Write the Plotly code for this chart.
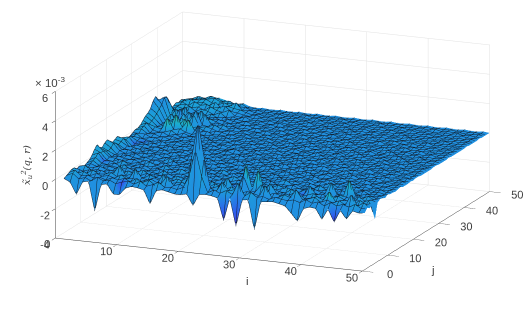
import plotly.graph_objects as go

i_vals = list(range(1, 51))
j_vals = list(range(1, 51))
z_ticks = [-4, -2, 0, 2, 4, 6]
ij_ticks = [0, 10, 20, 30, 40, 50]

# surface heights, in 0.1 x 10^-3; one row per j, one value per i
rows = [
[0,-2,-10,-2,0,-20,-3,-1,-7,-7,-4,-1,-2,-4,-11,-3,-1,-3,-5,-5,-3,-9,-2,-1,-2,-4,-17,-2,-20,-3,-2,-21,-3,-2,-1,-3,-5,-7,-12,-6,-3,-4,-9,-3,-10,-3,-7,-2,-4,-3],
[1,3,-1,2,-2,4,0,2,-2,1,3,0,5,-1,2,6,0,1,-1,3,10,28,10,-1,4,0,5,0,9,0,6,0,2,-1,3,1,0,2,-1,4,0,3,-2,4,0,3,0,5,0,2],
[2,4,1,3,0,2,-1,3,1,4,0,6,1,5,-1,2,7,1,4,0,22,46,22,3,0,7,2,5,1,4,2,0,8,-1,0,5,2,7,1,3,6,0,4,1,5,0,8,0,6,-1],
[3,1,5,0,4,1,3,0,6,1,3,-1,2,4,0,7,1,3,5,0,4,9,3,1,5,0,6,2,11,1,3,7,0,3,1,4,0,6,0,2,5,1,7,0,3,4,0,6,1,4],
[3,2,0,6,1,2,5,0,3,0,7,2,0,4,1,0,3,6,0,2,1,3,0,5,1,8,0,3,18,3,16,2,7,0,3,0,5,0,3,6,0,4,1,6,2,0,4,1,5,-10],
[1,0,3,1,4,0,2,7,0,4,1,0,5,2,0,4,0,1,6,0,3,0,5,0,2,5,0,4,2,5,3,0,4,1,0,6,2,0,7,2,4,0,2,5,3,1,6,0,3,0],
[2,3,0,2,0,3,1,0,5,1,0,4,0,3,1,0,5,2,0,3,0,4,1,0,6,1,3,0,5,0,2,4,0,3,5,0,1,6,3,0,2,10,3,1,13,4,0,5,1,3],
[1,0,2,4,1,0,3,1,0,2,5,0,2,0,4,1,0,3,0,5,1,0,2,4,0,0,3,1,0,2,4,0,5,1,0,3,2,0,4,1,0,3,1,0,4,2,0,3,1,2],
[0,2,1,0,3,1,0,4,1,0,2,1,0,5,0,2,3,0,1,0,4,1,0,2,0,3,0,4,0,1,0,3,0,2,4,0,1,3,0,2,1,0,4,0,2,0,3,0,2,0],
[1,3,0,2,1,0,5,0,2,3,0,1,4,0,2,0,1,5,0,2,0,3,0,1,5,0,2,0,3,0,4,0,1,0,3,0,2,0,5,0,1,3,0,2,0,4,0,1,0,3],
[2,4,1,0,3,0,2,1,0,4,0,2,0,3,0,5,0,2,0,0,3,0,2,0,1,4,0,1,0,3,0,2,5,0,1,0,4,1,0,2,0,0,3,0,1,3,0,2,0,1],
[4,6,2,3,0,5,1,0,3,0,2,0,5,0,1,0,3,0,4,1,0,2,0,4,0,1,0,3,2,0,1,4,0,2,0,3,0,0,2,5,0,2,0,3,0,1,0,3,0,1],
[7,5,1,0,4,1,0,2,0,5,1,0,2,0,3,2,0,1,0,3,0,5,0,1,2,0,4,0,1,0,3,0,2,0,1,4,0,3,0,1,2,0,4,0,2,0,2,0,1,0],
[9,5,3,2,0,2,3,0,4,0,0,3,0,2,0,1,4,0,2,0,1,0,3,0,0,3,0,2,0,4,0,1,0,3,0,2,0,1,4,0,1,0,2,0,4,1,0,2,0,1],
[6,4,1,3,1,0,2,1,0,3,1,0,4,0,2,0,0,3,0,1,3,0,2,0,4,0,1,0,2,0,0,3,0,1,0,4,0,2,0,1,0,3,0,1,0,2,0,1,0,2],
[5,3,2,0,3,1,0,3,0,1,0,5,0,1,0,3,0,1,4,0,0,2,0,1,0,3,0,2,0,1,4,0,2,0,3,0,0,1,0,3,0,1,0,4,0,1,2,0,1,0],
[7,4,0,2,0,4,0,1,2,0,3,0,1,0,4,0,2,0,0,3,0,1,4,0,2,0,0,3,0,2,0,1,0,4,0,1,3,0,2,0,2,0,3,0,1,0,2,0,1,0],
[8,6,3,0,2,1,3,0,4,0,1,0,3,0,1,2,0,3,0,1,2,0,0,3,0,1,4,0,1,0,3,0,2,0,1,0,3,0,1,0,4,0,1,0,3,0,1,0,2,0],
[6,5,2,3,0,2,0,2,0,3,0,2,0,4,0,0,3,0,2,0,0,4,0,1,0,2,0,3,0,1,0,4,0,2,0,3,0,1,0,3,0,2,0,1,0,3,0,1,0,1],
[4,3,1,0,4,0,3,0,1,0,4,0,1,0,2,0,1,4,0,1,3,0,2,0,3,0,1,0,4,0,1,0,3,0,1,0,2,0,4,0,1,0,3,0,2,0,1,0,2,0],
[5,4,3,2,0,2,1,0,3,0,1,2,0,3,0,3,0,1,0,2,0,1,0,4,0,1,0,2,0,3,0,1,0,2,4,0,1,0,1,3,0,1,0,2,0,3,0,1,0,1],
[6,5,-1,3,1,0,3,2,0,2,0,3,0,1,0,0,2,0,3,0,4,0,1,0,2,0,3,0,1,0,2,0,3,0,0,2,0,3,0,1,0,4,0,1,0,1,0,2,0,1],
[4,3,-2,1,3,0,1,0,4,0,1,0,2,0,4,0,1,0,1,3,0,2,0,1,0,3,0,1,0,4,0,1,0,2,0,3,0,1,0,2,0,1,0,3,0,2,0,1,0,0],
[3,4,-1,2,0,3,0,2,0,1,3,0,1,3,0,2,0,3,0,0,1,0,3,0,1,0,2,0,3,0,1,3,0,1,0,0,2,0,3,0,1,0,2,0,1,0,3,0,1,0],
[2,3,1,0,2,0,4,0,1,0,0,3,0,1,0,1,0,2,4,0,0,2,0,1,0,4,0,1,0,2,0,0,3,0,1,2,0,1,0,3,0,2,0,1,0,2,0,0,1,0],
[0,2,3,1,0,2,0,1,3,0,2,0,1,0,3,0,0,1,0,2,0,3,0,0,2,0,1,0,3,0,1,0,2,0,4,0,1,0,2,0,1,0,3,0,1,0,1,0,2,0],
[1,3,0,2,3,0,1,0,2,0,4,0,0,2,0,3,0,0,2,0,1,0,2,0,3,0,0,2,0,1,0,3,0,1,0,2,0,3,0,1,0,2,0,0,3,0,1,0,1,0],
[2,2,4,0,1,3,0,2,0,1,0,2,0,3,0,1,0,3,0,1,0,2,0,3,0,1,0,0,2,0,4,0,1,0,2,0,1,0,0,2,0,3,0,1,0,2,0,1,0,1],
[3,4,2,3,0,1,2,0,3,0,1,0,3,0,0,2,0,1,0,3,0,0,1,0,2,0,3,0,1,0,2,0,0,3,0,1,0,2,0,1,3,0,1,0,2,0,1,0,0,1],
[3,5,1,2,4,0,3,0,1,2,0,3,0,1,2,0,3,0,1,0,2,0,3,0,1,0,2,0,0,3,0,1,0,2,0,0,3,0,1,0,2,0,0,3,0,1,0,1,0,0],
[4,6,3,1,2,5,0,3,0,0,3,0,1,0,3,0,1,0,2,0,0,3,0,1,0,2,0,3,0,1,0,2,0,1,0,3,0,1,0,2,0,1,3,0,1,0,2,0,1,0],
[6,4,5,3,10,4,6,2,0,3,0,2,0,2,0,1,0,3,0,1,2,0,1,0,3,0,1,0,2,0,3,0,1,0,2,0,0,3,0,1,0,2,0,1,0,2,0,0,1,0],
[8,5,3,6,4,12,5,9,3,2,4,0,1,0,3,0,2,0,1,0,3,0,0,2,0,1,0,3,0,1,0,2,0,3,0,1,0,2,0,0,3,0,1,0,2,0,1,0,1,0],
[9,6,4,3,7,5,8,4,6,2,0,3,2,0,1,0,3,0,0,2,0,1,0,3,0,0,2,0,1,0,2,0,0,1,0,3,0,1,0,2,0,0,2,0,1,0,2,0,0,1],
[11,8,3,5,2,7,4,10,3,5,3,0,1,3,0,2,0,1,0,3,0,2,0,1,0,3,0,1,0,3,0,1,0,2,0,0,2,0,3,0,1,0,1,0,3,0,1,0,1,0],
[15,10,4,8,3,9,5,12,4,3,6,2,0,1,0,3,0,2,0,0,2,0,3,0,1,0,2,0,1,0,2,0,3,0,1,0,1,0,0,2,0,3,0,1,0,1,0,0,1,0],
[17,12,5,6,11,4,7,3,9,4,2,5,0,3,0,1,0,0,3,0,1,0,2,0,3,0,1,0,2,0,0,3,0,1,0,2,0,0,2,0,1,0,2,0,1,0,1,0,1,0],
[13,16,6,9,4,8,3,10,5,2,4,0,2,0,1,0,3,0,1,0,3,0,0,2,0,1,0,3,0,1,0,1,0,2,0,0,3,0,1,0,2,0,0,1,0,2,0,1,0,0],
[12,15,7,5,10,3,7,4,6,3,0,3,0,1,3,0,0,2,0,1,0,2,0,1,0,2,0,0,3,0,1,0,2,0,1,0,1,0,3,0,0,2,0,1,0,1,0,0,1,0],
[13,9,5,7,3,6,2,5,3,4,2,0,2,0,0,2,0,1,0,3,0,1,0,3,0,0,2,0,1,0,3,0,1,0,2,0,0,1,0,2,0,1,0,3,0,1,0,1,0,0],
[8,6,3,4,5,3,6,2,4,0,3,1,0,3,0,1,0,2,0,0,2,0,1,0,2,0,1,0,0,2,0,1,0,3,0,1,0,2,0,0,2,0,1,0,1,0,1,0,0,1],
[4,3,5,2,4,3,2,5,1,3,0,2,0,1,0,2,0,0,3,0,1,0,2,0,1,0,3,0,1,0,2,0,0,1,0,2,0,1,0,2,0,1,0,1,0,2,0,0,1,0],
[2,4,3,5,2,4,3,1,3,0,2,0,4,0,1,0,2,0,1,0,0,2,0,1,0,2,0,1,0,2,0,1,0,2,0,1,0,0,2,0,1,0,2,0,1,0,1,0,1,0],
[3,4,5,3,4,2,5,3,2,4,1,0,2,0,2,0,1,0,2,0,1,0,3,0,1,0,1,0,2,0,0,2,0,1,0,1,0,2,0,1,0,1,0,2,0,1,0,1,0,0],
[4,5,3,6,4,5,3,4,5,2,3,1,0,3,0,1,0,2,0,1,0,2,0,1,0,2,0,1,0,1,0,2,0,1,0,2,0,1,0,1,0,2,0,1,0,0,1,0,1,0],
[3,5,6,4,5,3,6,2,4,3,5,2,0,2,0,1,0,1,0,2,0,1,0,2,0,1,0,2,0,1,0,1,0,2,0,0,1,0,2,0,1,0,1,0,1,0,2,0,0,1],
[4,3,5,5,6,4,3,5,3,6,2,3,1,0,1,0,2,0,1,0,1,0,2,0,1,0,1,0,2,0,1,0,1,0,1,0,2,0,1,0,1,0,0,1,0,2,0,1,0,0],
[3,4,4,5,5,6,4,3,4,2,4,1,2,0,1,0,1,0,1,0,2,0,1,0,1,0,2,0,1,0,1,0,2,0,1,0,0,1,0,1,0,2,0,1,0,1,0,0,1,0],
[1,3,5,4,6,5,3,4,2,3,1,2,0,1,0,1,0,1,0,1,0,1,0,1,0,1,0,1,0,1,0,1,0,1,0,1,0,1,0,1,0,1,0,1,0,1,0,1,0,0],
[0,1,2,3,3,4,3,2,1,2,1,0,1,0,0,1,0,0,1,0,0,1,0,0,1,0,0,1,0,0,1,0,0,1,0,0,1,0,0,1,0,0,1,0,0,1,0,0,1,0],
]
tint_i = [5, 6, 8, 7, 5, 27, 29, 45, 26, 29, 31, 45, 43, 10, 3, 3, 4, 38]
tint_j = [32, 33, 33, 34, 35, 1, 1, 1, 6, 5, 5, 7, 4, 2, 12, 24, 25, 6]
tint_c = [0.9, 0.9, 0.8, 0.7, 0.7, -0.8, -0.9, -0.9, -0.8, 0.9, 0.7, 0.6, 0.8, -0.8, -0.5, -0.5, -0.5, -0.6]

# the low texture over the flat part was typed too high: halve it, away from the left ridge and back-left plateau
texture_gain = 0.5
Z = []
for jj, r in enumerate(rows, start=1):
    out = []
    for ii, v in enumerate((r + [0] * 50)[:50], start=1):
        keep = ii <= 2 or (jj >= 43 and ii <= 10) or abs(v) > 6
        out.append((v if keep else v * texture_gain) / 10)
    Z.append(out)
C = [[0.2 if 0.25 <= v <= 1.0 else 0.0 for v in r] for r in Z]
for a, b, v in zip(tint_i, tint_j, tint_c):
    C[b-1][a-1] = v

parula = [[0, '#4a2fd0'], [0.25, '#2f60ee'], [0.5, '#2090e0'], [0.65, '#1aa8d4'], [0.85, '#25bcb0'], [1, '#40c890']]
font = dict(family='Liberation Sans, Arial', size=11.5, color='#404040')

def axis(ticks, rng, tl, labels=None):
    return dict(range=rng, tickvals=ticks, ticktext=labels or [str(t) for t in ticks], showgrid=True,
                gridcolor='#e2e2e2', gridwidth=1, zeroline=False, showbackground=False,
                showline=True, linecolor='#404040', linewidth=1, ticks='outside', ticklen=tl,
                tickcolor='#404040', tickfont=font, tickangle=0, title=dict(text=''), showspikes=False)

fig = go.Figure(go.Surface(
    x=i_vals, y=j_vals, z=Z, surfacecolor=C, cmin=-1, cmax=1, colorscale=parula, showscale=False,
    lighting=dict(ambient=1, diffuse=0, specular=0, roughness=1, fresnel=0),
    contours=dict(
        x=dict(show=True, start=1, end=50, size=1, color='#102030', width=1, highlight=False),
        y=dict(show=True, start=1, end=50, size=1, color='#102030', width=1, highlight=False),
        z=dict(highlight=False)),
    hoverinfo='skip'))
k = 2.0
A = 2.13
cx, cy, cz = -0.047, -0.02, -0.096
fig.update_layout(
    width=529, height=312, autosize=False, margin=dict(l=0, r=0, t=0, b=0),
    paper_bgcolor='white', showlegend=False, font=font,
    scene=dict(
        domain=dict(x=[0, 1], y=[0, 1]),
        aspectmode='manual', aspectratio=dict(x=A, y=A, z=0.457*A),
        xaxis=axis(ij_ticks, [0, 50], 12, [' ', '10', '20', '30', '40', '50']),
        yaxis=axis(ij_ticks, [0, 50], 9), zaxis=axis(z_ticks, [-4, 6], 9),
        camera=dict(projection=dict(type='orthographic'), up=dict(x=0, y=0, z=1),
                    center=dict(x=cx, y=cy, z=cz),
                    eye=dict(x=0.37*k+cx, y=-0.892*k+cy, z=0.259*k+cz))),
    annotations=[
        dict(text='× 10<sup>-3</sup>', x=33/529, y=1-73/312, xref='paper', yref='paper', showarrow=False, font=font),
        dict(text='0', x=42/529, y=1-252/312, xref='paper', yref='paper', showarrow=False, font=font),
        dict(text='i', x=247/529, y=1-289/312, xref='paper', yref='paper', showarrow=False, font=font),
        dict(text='j', x=437/529, y=1-278/312, xref='paper', yref='paper', showarrow=False, font=font),
        dict(text='<i>x̃<sub>u</sub><sup>2</sup>(q, r)</i>', x=18/529, y=1-165/312, xref='paper', yref='paper', showarrow=False,
             textangle=-90, font=dict(family='DejaVu Serif', size=10, color='#404040')),
    ])
fig.write_html('out.html', config=dict(displayModeBar=False), post_script="document.body.style.margin='0';")
